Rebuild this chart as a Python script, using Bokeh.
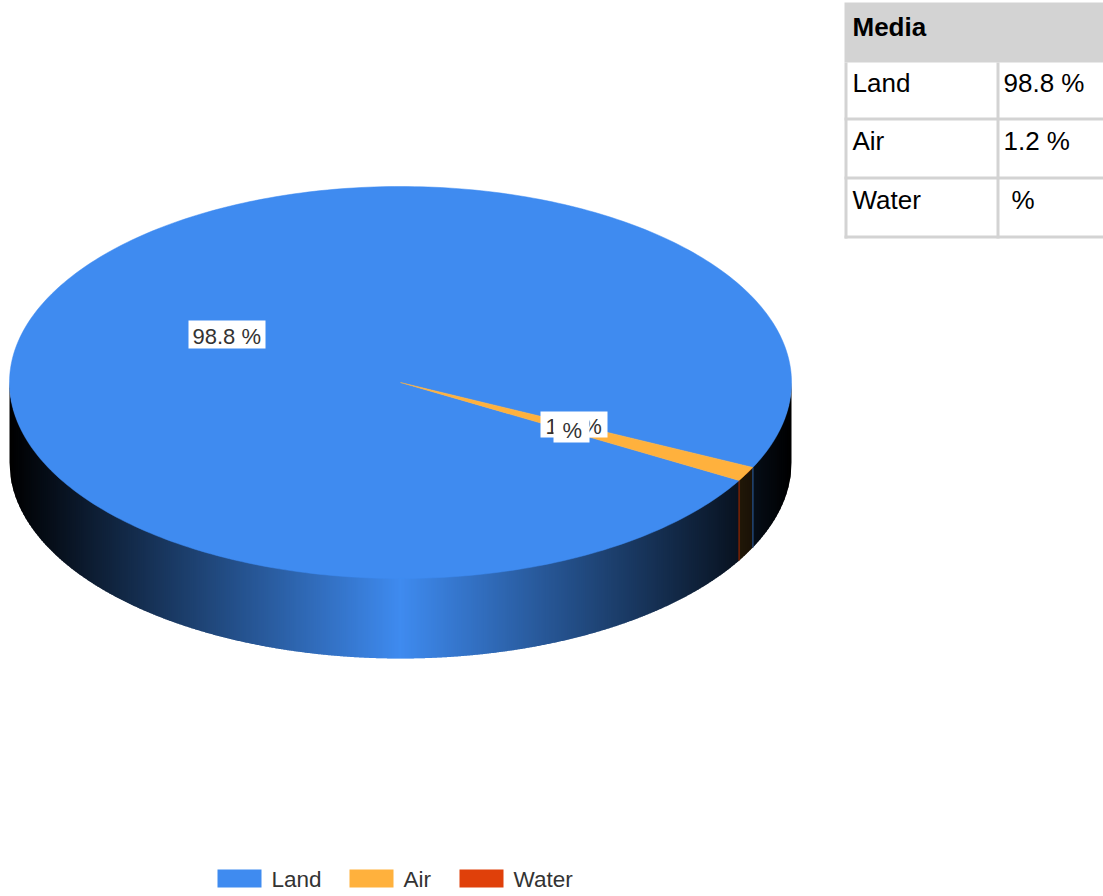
import numpy as np
from bokeh.core.properties import value
from bokeh.embed import file_html
from bokeh.models import Range1d
from bokeh.plotting import figure
from bokeh.resources import INLINE

# Media split shown in the pie and in the side table
media = ["Land", "Air", "Water"]
shares = [98.8, 1.2, 0.0]
share_labels = ["98.8 %", "1.2 %", "%"]
colors = ["#3f8bf0", "#ffb13d", "#e0400a"]

WIDTH, HEIGHT = 1103, 896
CX, CY, RX, RY, DEPTH = 400.0, 382.0, 391.0, 196.0, 80.0
START_DEG = 30.0  # screen angle where the first slice begins, clockwise with y down
FONT = value("Liberation Sans")


def shade(hex_color, factor):
    r, g, b = (int(hex_color[i:i + 2], 16) for i in (1, 3, 5))
    return "#%02x%02x%02x" % (int(r * factor), int(g * factor), int(b * factor))


def wall_factor(x):
    # Mirrored ramp from near black at the rim to the full colour at the front
    return float(np.clip(1.0 - abs(x - CX) / RX, 0.0, 1.0))


p = figure(width=WIDTH, height=HEIGHT, output_backend="svg", toolbar_location=None,
           x_range=Range1d(0, WIDTH), y_range=Range1d(HEIGHT, 0),
           min_border=0, outline_line_color=None, background_fill_color="white")
p.axis.visible = False
p.grid.visible = False


def put_text(x, baseline, text, size, color, style="normal"):
    # Anchored on the vertical middle; the baseline sits about a third of the size below it
    p.text(x=[x], y=[baseline - 0.34 * size], text=[text], text_font=FONT,
           text_font_size=f"{size}px", text_font_style=style, text_color=color,
           text_baseline="middle", text_align="left")


# Slice extents in degrees, worked out from the shares
spans = np.array(shares) / sum(shares) * 360.0
starts = START_DEG + np.concatenate([[0.0], np.cumsum(spans)[:-1]])
ends = starts + spans


def slice_at(deg):
    d = (deg - START_DEG) % 360.0 + START_DEG
    for i in range(len(media)):
        if starts[i] <= d < ends[i] and spans[i] > 0:
            return i
    return 0


def rim_y(x):
    u = np.clip((x - CX) / RX, -1, 1)
    return CY + RY * np.sqrt(1 - u ** 2)


# Side wall: vertical strips along the front half of the rim, each one
# running under the next so that no seams show between them
step = 2.0
edges = np.arange(CX - RX, CX + RX, step)
for x0 in edges:
    xm = x0 + step / 2
    x1 = min(x0 + step + 1, CX + RX)
    u = (xm - CX) / RX
    mid = np.degrees(np.arctan2(np.sqrt(max(1 - u ** 2, 0)), u))
    col = shade(colors[slice_at(mid)], wall_factor(xm))
    xs = np.linspace(x0, x1, 4)
    ys = rim_y(xs)
    p.patch(np.concatenate([xs, xs[::-1]]), np.concatenate([ys - 1, (ys + DEPTH)[::-1]]),
            fill_color=col, line_color=None)

# Thin edges on the wall: the end of Land beside Air, and the empty Water slice
for deg, col in ((starts[1], shade(colors[0], 0.5)), (starts[2], shade(colors[2], 0.55))):
    a = np.radians(deg)
    ex = CX + RX * np.cos(a)
    ey = CY + RY * np.sin(a)
    p.line([ex, ex], [ey, ey + DEPTH], line_color=col, line_width=1.5)

# Top face
for i in range(len(media)):
    if spans[i] <= 0:
        continue
    t = np.radians(np.linspace(starts[i], ends[i], 361))
    xs = np.concatenate([[CX], CX + RX * np.cos(t)])
    ys = np.concatenate([[CY], CY + RY * np.sin(t)])
    p.patch(xs, ys, fill_color=colors[i], line_color=colors[i], line_width=0.5)

# Value labels on white plates; the last one sits over the one before it
label_boxes = [(188, 320, 265, 348), (540, 411, 607, 437), (553, 416, 589, 442)]
label_text_x = [192, 545, 562]
label_baselines = [343, 433, 437]
for (x0, y0, x1, y1), tx, base, lab in zip(label_boxes, label_text_x, label_baselines, share_labels):
    p.quad(left=x0, right=x1, top=y0, bottom=y1, fill_color="white", line_color=None)
    put_text(tx, base, lab, 22, "#333333")

# Legend along the bottom
swatch_x = [217, 349, 459]
for sx, name, col in zip(swatch_x, media, colors):
    p.quad(left=sx, right=sx + 44, top=869, bottom=887, fill_color=col, line_color=None)
    put_text(sx + 54, 887, name, 22.5, "#333333")

# Media table at the top right
GRID = "#d3d3d3"
p.quad(left=844, right=WIDTH, top=2, bottom=62, fill_color=GRID, line_color=None)
for y in (117, 176, 235):
    p.quad(left=844, right=WIDTH, top=y, bottom=y + 3, fill_color=GRID, line_color=None)
for x in (844, 996):
    p.quad(left=x, right=x + 3, top=62, bottom=238, fill_color=GRID, line_color=None)

put_text(852, 35, "Media", 26, "black", "bold")
row_baselines = [91, 149, 208]
table_values = ["98.8 %", "1.2 %", "%"]
table_value_x = [1003, 1003, 1011]
for name, val, vx, base in zip(media, table_values, table_value_x, row_baselines):
    put_text(852, base, name, 26, "black")
    put_text(vx, base, val, 26, "black")

open("out.html", "w").write(file_html(p, INLINE))
